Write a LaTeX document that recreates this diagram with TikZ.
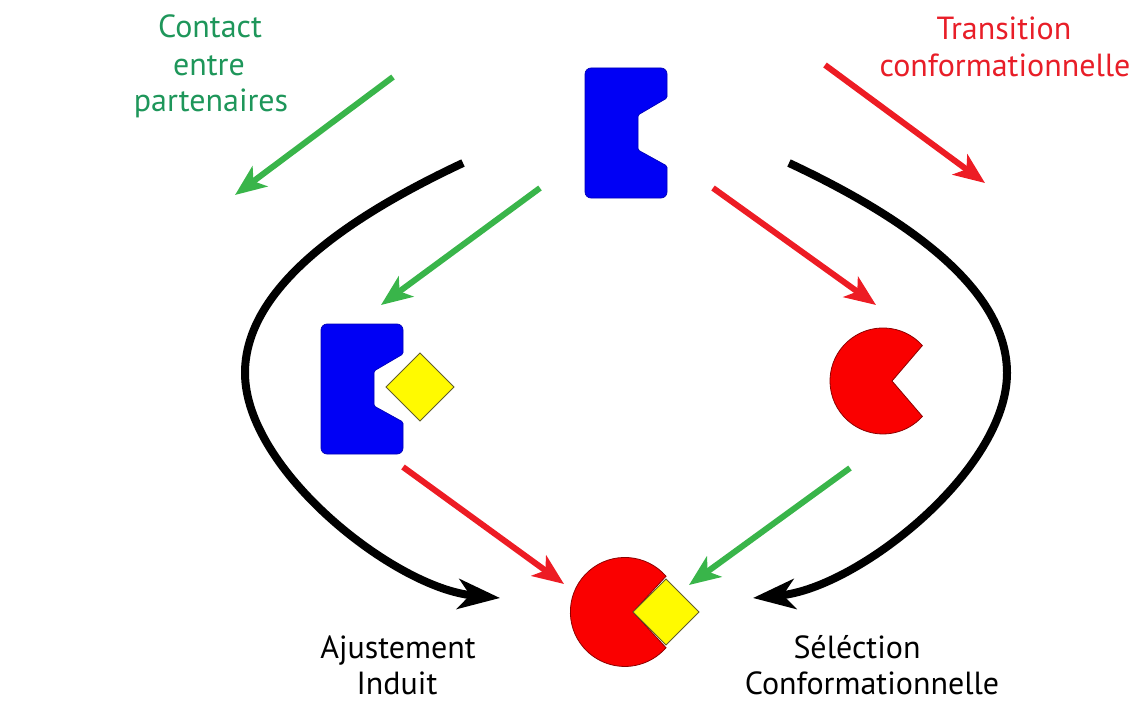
\documentclass[tikz,border=0pt]{standalone}
\usepackage{fontspec}
\setmainfont{PT Sans}
\usetikzlibrary{arrows.meta}
\definecolor{recblue}{RGB}{0,0,245}
\definecolor{ligred}{RGB}{250,0,0}
\definecolor{ligyellow}{RGB}{255,250,0}
\definecolor{arrgreen}{RGB}{57,181,74}
\definecolor{arrred}{RGB}{237,28,36}
\definecolor{txtgreen}{RGB}{30,150,90}
\definecolor{txtred}{RGB}{232,30,40}
\tikzset{
  receptor/.pic={
    \path[fill=recblue, draw=recblue!75!black, line width=0.7pt, rounded corners=6pt]
      (0,-65) -- (0,0) -- (82,0) [rounded corners=1.5pt] -- (82,-30) -- (53,-47) -- (53,-82)
      -- (82,-98) [rounded corners=6pt] -- (82,-130) -- (0,-130) -- cycle;
  },
  ligand/.style={fill=ligyellow, draw=black!40!olive, line width=0.8pt},
  pacman/.style={fill=ligred, draw=red!55!black, line width=0.8pt},
  greenarrow/.style={draw=arrgreen, line width=6pt,
    -{Stealth[length=31pt,width=25pt,inset=8pt]}},
  redarrow/.style={draw=arrred, line width=6pt,
    -{Stealth[length=31pt,width=25pt,inset=8pt]}},
  cyclearrow/.style={draw=black, line width=8pt,
    -{Stealth[length=42pt,width=30pt,inset=12pt]}},
  label/.style={font=\fontsize{32}{38}\selectfont, anchor=base, inner sep=0pt},
}
\begin{document}
\begin{tikzpicture}[x=1pt, y=1pt]
\useasboundingbox (0,0) rectangle (1135,-701);

% receptor, free and with ligand bound
\pic (freerec) at (585,-68) {receptor};
\pic (boundrec) at (321,-324) {receptor};
\draw[ligand] (386,-387) -- (420,-353) -- (454,-387) -- (420,-421) -- cycle;

% receptor in its closed conformation
\coordinate (pacA) at (892,-381);
\draw[pacman] (pacA) -- (922.4,-345.5) arc[start angle=42, end angle=318, radius=53pt] -- cycle;

% final complex
\coordinate (pacB) at (633,-612);
\draw[pacman] (pacB) -- (666,-576.2) arc[start angle=41, end angle=319, radius=54.5pt] -- cycle;
\draw[ligand] (pacB) -- (666,-579) -- (699,-612) -- (666,-645) -- cycle;

% legend arrows
\coordinate (lg1) at (393,-77);  \coordinate (lg2) at (235,-195);
\coordinate (lr1) at (825,-65);  \coordinate (lr2) at (985,-183);
\draw[greenarrow] (lg1) -- (lg2);
\draw[redarrow] (lr1) -- (lr2);

% pathway arrows
\coordinate (ga1) at (540,-188); \coordinate (ga2) at (381,-305);
\coordinate (ra1) at (713,-188); \coordinate (ra2) at (876,-305);
\coordinate (rb1) at (403,-467); \coordinate (rb2) at (564,-584);
\coordinate (gb1) at (850,-468); \coordinate (gb2) at (689,-585);
\draw[greenarrow] (ga1) -- (ga2);
\draw[redarrow] (ra1) -- (ra2);
\draw[redarrow] (rb1) -- (rb2);
\draw[greenarrow] (gb1) -- (gb2);

% outer curved arrows
\coordinate (kl1) at (463,-163); \coordinate (klm) at (245,-373); \coordinate (kl2) at (500,-598);
\coordinate (kr1) at (789,-163); \coordinate (krm) at (1007,-373); \coordinate (kr2) at (753,-598);
\draw[cyclearrow] (kl1) .. controls (320,-230) and (245,-300) .. (klm)
  .. controls (245,-470) and (395,-588) .. (kl2);
\draw[cyclearrow] (kr1) .. controls (932,-230) and (1007,-300) .. (krm)
  .. controls (1007,-470) and (858,-588) .. (kr2);

% labels
\node[label, text=txtgreen] (c1) at (210,-38) {Contact};
\node[label, text=txtgreen] (c2) at (209,-75) {entre};
\node[label, text=txtgreen] (c3) at (211,-111) {partenaires};
\node[label, text=txtred] (t1) at (1004,-40) {Transition};
\node[label, text=txtred] (t2) at (1005,-77) {conformationnelle};
\node[label] (a1) at (398,-658) {Ajustement};
\node[label] (a2) at (397,-694) {Induit};
\node[label] (s1) at (857,-658) {Séléction};
\node[label] (s2) at (872,-694) {Conformationnelle};
\end{tikzpicture}
\end{document}
